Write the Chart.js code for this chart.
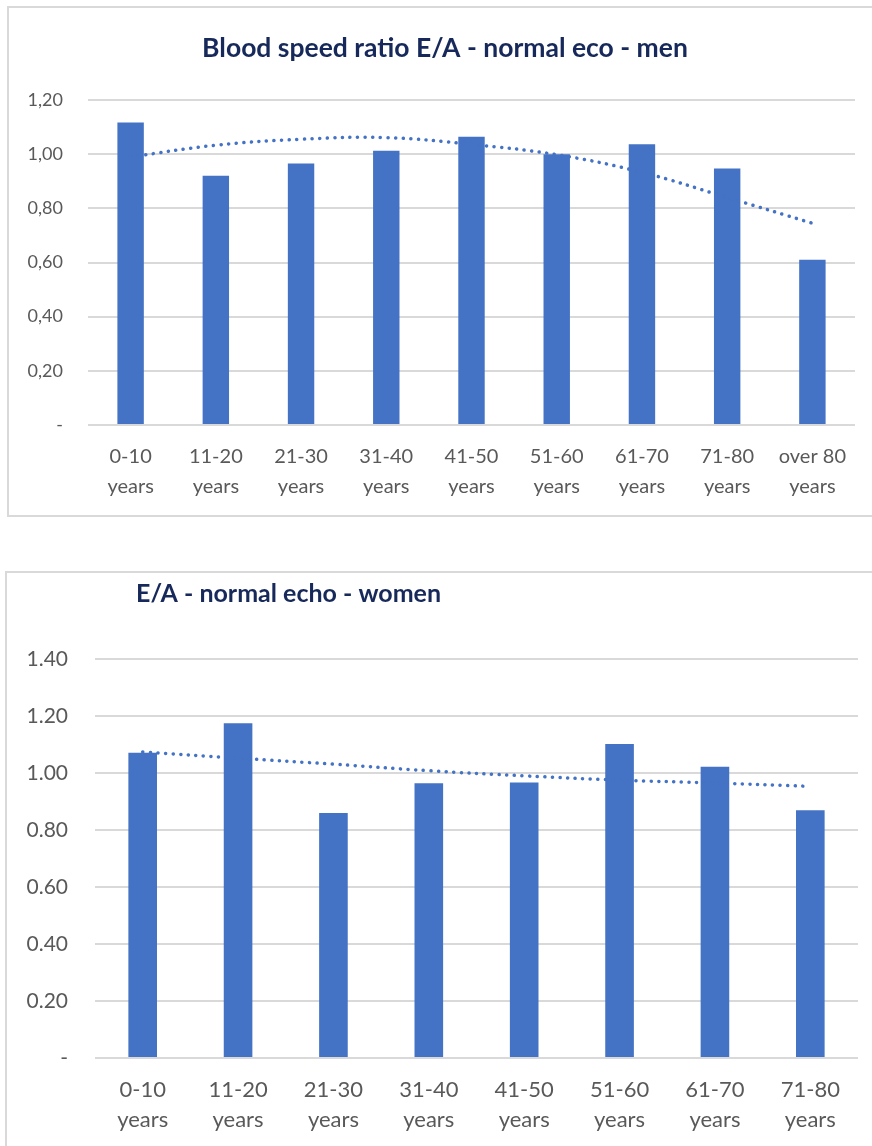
<!DOCTYPE html>
<html>
<head>
<meta charset="utf-8">
<script src="https://cdn.jsdelivr.net/npm/chart.js@4.4.1/dist/chart.umd.min.js"></script>
<style>
    html, body { margin: 0; padding: 0; background: #fff; overflow: hidden; }
    body { width: 872px; height: 1146px; position: relative; }
    .panel { position: absolute; border: 2px solid #d9d9d9; box-sizing: border-box; }
    canvas { position: absolute; left: 0; }
</style>
</head>
<body>
<div class="panel" style="left:7px; top:6px; width:900px; height:511px;"></div>
<div class="panel" style="left:5px; top:571px; width:900px; height:600px;"></div>
<canvas id="menChart" width="872" height="516" style="top:0; width:872px; height:516px;"></canvas>
<canvas id="womenChart" width="872" height="574" style="top:572px; width:872px; height:574px;"></canvas>
<script>
// men chart
const menTitle = "Blood speed ratio E/A - normal eco - men";
const menCategories = [
    ["0-10", "years"], ["11-20", "years"], ["21-30", "years"], ["31-40", "years"],
    ["41-50", "years"], ["51-60", "years"], ["61-70", "years"], ["71-80", "years"],
    ["over 80", "years"]
];
const menValues = [1.117, 0.92, 0.966, 1.013, 1.064, 1.00, 1.037, 0.947, 0.61];
const menTrend = [0.99, 1.033, 1.055, 1.061, 1.036, 0.998, 0.933, 0.84, 0.745];
const menTicks = ["-", "0,20", "0,40", "0,60", "0,80", "1,00", "1,20"];

// women chart
const womenTitle = "E/A - normal echo - women";
const womenCategories = [
    ["0-10", "years"], ["11-20", "years"], ["21-30", "years"], ["31-40", "years"],
    ["41-50", "years"], ["51-60", "years"], ["61-70", "years"], ["71-80", "years"]
];
const womenValues = [1.071, 1.175, 0.86, 0.964, 0.967, 1.102, 1.022, 0.869];
const womenTrend = [1.074, 1.052, 1.031, 1.008, 0.99, 0.975, 0.965, 0.953];
const womenTicks = ["-", "0.20", "0.40", "0.60", "0.80", "1.00", "1.20", "1.40"];

const BAR_COLOR = "#4472C4";
const GRID_COLOR = "#d9d9d9";
const TEXT_COLOR = "#595959";
const TITLE_COLOR = "#17295a";
const FONT = "Lato, 'Open Sans', sans-serif";

// draws the title at a fixed spot, like the spreadsheet does
const titlePlugin = {
    id: "fixedTitle",
    afterDraw(chart, args, opts) {
        const ctx = chart.ctx;
        ctx.save();
        ctx.font = "bold " + opts.size + "px " + FONT;
        ctx.fillStyle = TITLE_COLOR;
        ctx.textAlign = opts.align;
        ctx.textBaseline = "alphabetic";
        ctx.fillText(opts.text, opts.x, opts.y);
        ctx.restore();
    }
};

function makeChart(canvasId, cfg) {
    const ctx = document.getElementById(canvasId).getContext("2d");
    return new Chart(ctx, {
        type: "bar",
        data: {
            labels: cfg.categories,
            datasets: [
                {
                    type: "line",
                    data: cfg.trend,
                    borderColor: BAR_COLOR,
                    borderWidth: 3.5,
                    borderDash: [0.1, 7.5],
                    borderCapStyle: "round",
                    pointRadius: 0,
                    tension: 0.4,
                    fill: false,
                    order: 0
                },
                {
                    data: cfg.values,
                    backgroundColor: BAR_COLOR,
                    categoryPercentage: 1,
                    barPercentage: cfg.barPct,
                    order: 1
                }
            ]
        },
        plugins: [titlePlugin],
        options: {
            responsive: false,
            animation: false,
            layout: {
                padding: { top: cfg.area.top, right: cfg.area.right, left: 0, bottom: 0 }
            },
            plugins: {
                legend: { display: false },
                tooltip: { enabled: false },
                fixedTitle: cfg.title
            },
            scales: {
                x: {
                    grid: { display: false, drawTicks: false },
                    border: { display: false },
                    ticks: {
                        color: TEXT_COLOR,
                        padding: cfg.xPad,
                        maxRotation: 0,
                        autoSkip: false,
                        font: { family: FONT, size: cfg.xFont, lineHeight: "30px" }
                    },
                    afterFit(scale) { scale.height = cfg.area.xHeight; }
                },
                y: {
                    min: 0,
                    max: cfg.max,
                    grid: { color: GRID_COLOR, lineWidth: 2, drawTicks: false },
                    border: { display: false },
                    ticks: {
                        stepSize: 0.2,
                        color: TEXT_COLOR,
                        padding: cfg.yPad,
                        font: { family: FONT, size: cfg.yFont },
                        callback: (value, index) => cfg.ticks[index]
                    },
                    afterFit(scale) { scale.width = cfg.area.left; }
                }
            }
        }
    });
}

makeChart("menChart", {
    categories: menCategories,
    values: menValues,
    trend: menTrend,
    ticks: menTicks,
    max: 1.2,
    barPct: 0.31,
    xFont: 20,
    yFont: 18,
    xPad: 17,
    yPad: 25,
    area: { top: 100, right: 17, left: 88, xHeight: 91 },
    title: { text: menTitle, x: 445, y: 57, size: 26.5, align: "center" }
});

makeChart("womenChart", {
    categories: womenCategories,
    values: womenValues,
    trend: womenTrend,
    ticks: womenTicks,
    max: 1.4,
    barPct: 0.30,
    xFont: 22,
    yFont: 21,
    xPad: 17,
    yPad: 27,
    area: { top: 87, right: 14, left: 95, xHeight: 88 },
    title: { text: womenTitle, x: 136, y: 30, size: 25, align: "left" }
});
</script>
</body>
</html>
